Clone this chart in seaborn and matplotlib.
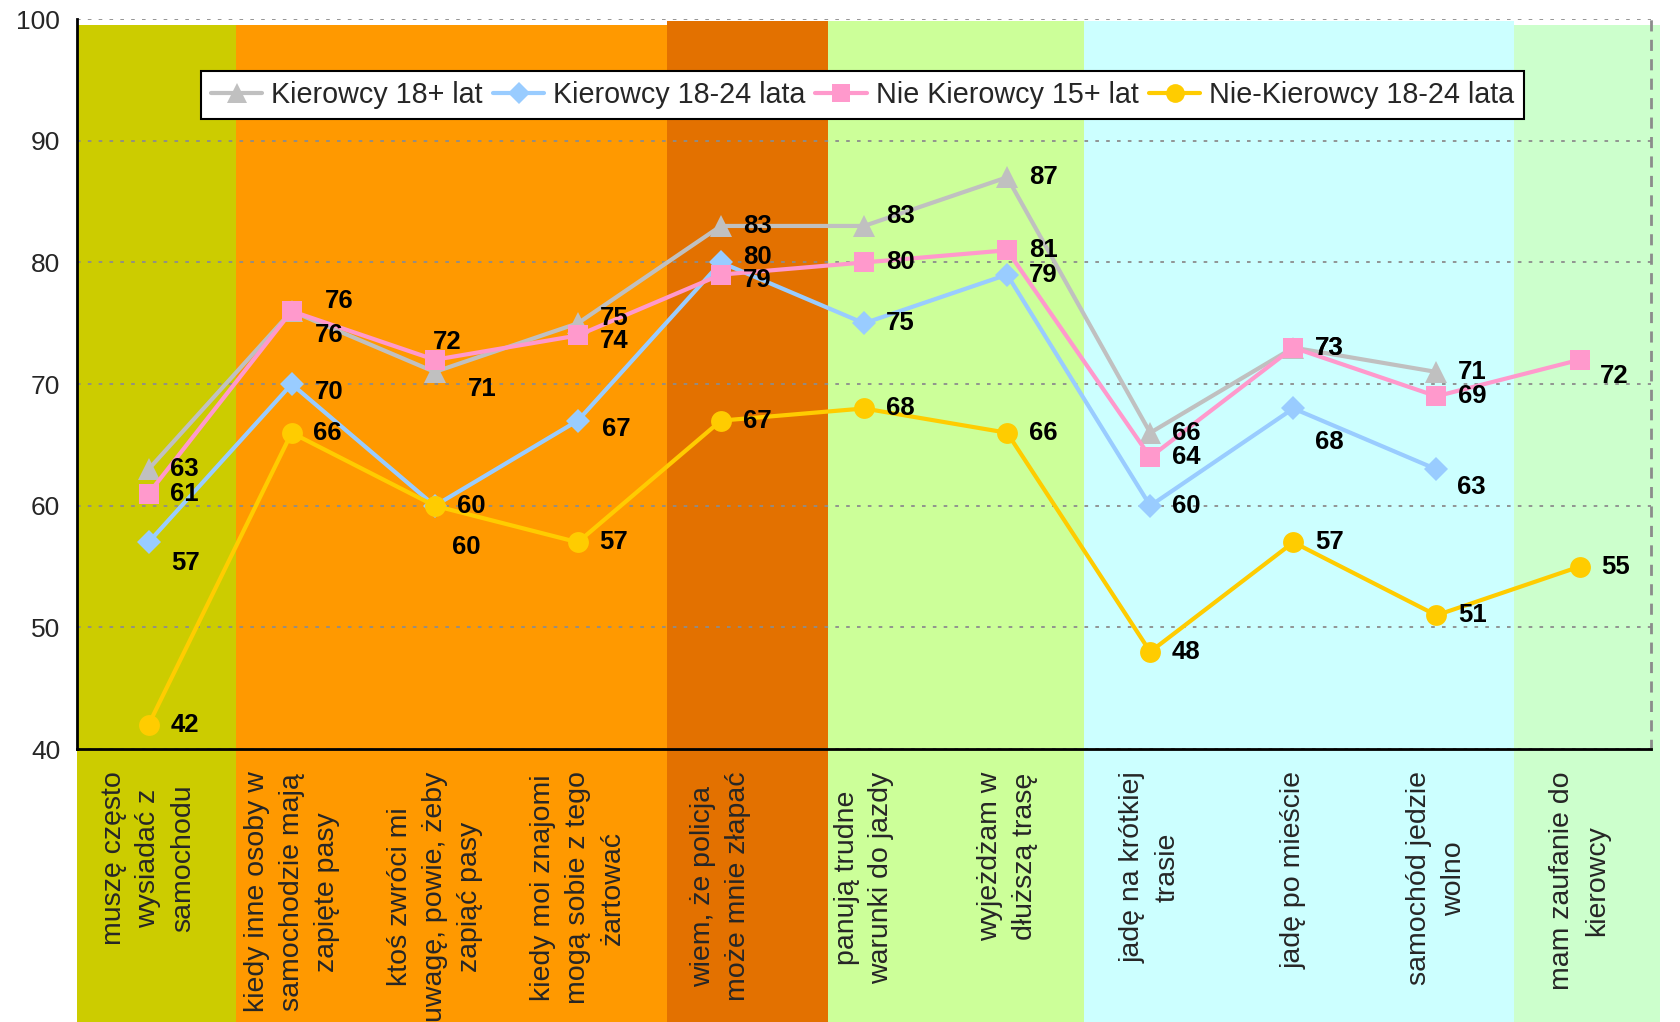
import numpy as np
import pandas as pd
import matplotlib
matplotlib.use("Agg")
import matplotlib.pyplot as plt
import seaborn as sns

# categories (x axis)
categories = [
    "muszę często\nwysiadać z\nsamochodu",
    "kiedy inne osoby w\nsamochodzie mają\nzapięte pasy",
    "ktoś zwróci mi\nuwagę, powie, żeby\nzapiąć pasy",
    "kiedy moi znajomi\nmogą sobie z tego\nżartować",
    "wiem, że policja\nmoże mnie złapać",
    "panują trudne\nwarunki do jazdy",
    "wyjeżdżam w\ndłuższą trasę",
    "jadę na krótkiej\ntrasie",
    "jadę po mieście",
    "samochód jedzie\nwolno",
    "mam zaufanie do\nkierowcy",
]

series_names = ["Kierowcy 18+ lat", "Kierowcy 18-24 lata",
                "Nie Kierowcy 15+ lat", "Nie-Kierowcy 18-24 lata"]

kierowcy_18plus = [63, 76, 71, 75, 83, 83, 87, 66, 73, 71, np.nan]
kierowcy_18_24 = [57, 70, 60, 67, 80, 75, 79, 60, 68, 63, np.nan]
nie_kierowcy_15plus = [61, 76, 72, 74, 79, 80, 81, 64, 73, 69, 72]
nie_kierowcy_18_24 = [42, 66, 60, 57, 67, 68, 66, 48, 57, 51, 55]

y_ticks = [40, 50, 60, 70, 80, 90, 100]

# styling
colors = {"Kierowcy 18+ lat": "#C0C0C0", "Kierowcy 18-24 lata": "#99CCFF",
          "Nie Kierowcy 15+ lat": "#FF99CC", "Nie-Kierowcy 18-24 lata": "#FFCC00"}
markers = {"Kierowcy 18+ lat": "^", "Kierowcy 18-24 lata": "D",
           "Nie Kierowcy 15+ lat": "s", "Nie-Kierowcy 18-24 lata": "o"}
msizes = {"Kierowcy 18+ lat": 16, "Kierowcy 18-24 lata": 12,
          "Nie Kierowcy 15+ lat": 15, "Nie-Kierowcy 18-24 lata": 15}

# background bands: start, end (category units), colour, top (axes fraction)
bands = [(-0.5, 0.61, "#CCCC00", 0.992),
         (0.61, 3.625, "#FF9900", 0.992),
         (3.625, 4.745, "#E37100", 0.998),
         (4.745, 6.535, "#CCFF99", 0.998),
         (6.535, 9.545, "#CCFFFF", 0.998),
         (9.545, 10.56, "#CCFFCC", 0.992)]

# label offsets (points) where they differ from the default one
default_off = (26, 0)
label_off = {
    (1, 0): (27, -15),
    (2, 1): (34, 7),
    (0, 1): (27, -17),
    (1, 1): (27, -6),
    (2, 2): (9, 13),
    (0, 2): (34, -12),
    (3, 2): (23, -30),
    (0, 3): (26, 4),
    (2, 3): (26, -4),
    (1, 3): (28, -6),
    (1, 4): (26, 4),
    (2, 4): (26, -4),
    (0, 5): (26, 7),
    (1, 8): (26, -24),
    (1, 9): (25, -13),
    (2, 10): (25, -12),
}

rows = []
for name, vals in zip(series_names, [kierowcy_18plus, kierowcy_18_24,
                                     nie_kierowcy_15plus, nie_kierowcy_18_24]):
    for i, v in enumerate(vals):
        rows.append({"pos": i, "seria": name, "wartosc": v})
df = pd.DataFrame(rows)

sns.set_style("white")
plt.rcParams["font.family"] = ["Liberation Sans", "DejaVu Sans"]

fig = plt.figure(figsize=(16.81, 10.22), dpi=100)
ax = fig.add_axes([0.0458, 0.267, 0.9364, 0.7143])

for x0, x1, c, top in bands:
    ax.axvspan(x0, x1, ymin=-0.38, ymax=top, color=c, lw=0, zorder=0, clip_on=False)

sns.lineplot(data=df, x="pos", y="wartosc", hue="seria", style="seria",
             hue_order=series_names, style_order=series_names,
             palette=colors, markers=markers, dashes=False,
             linewidth=3, errorbar=None, ax=ax)

for line in ax.get_lines():
    line.set_markeredgecolor(line.get_color())
    line.set_markeredgewidth(0)

# marker sizes per series
for line, name in zip(ax.get_lines(), series_names):
    line.set_markersize(msizes[name])

# data labels
for si, vals in enumerate([kierowcy_18plus, kierowcy_18_24,
                           nie_kierowcy_15plus, nie_kierowcy_18_24]):
    for i, v in enumerate(vals):
        if np.isnan(v):
            continue
        dx, dy = label_off.get((si, i), default_off)
        ax.annotate(f"{int(v)}", xy=(i, v), xytext=(dx, dy),
                    textcoords="offset points", ha="center", va="center",
                    fontsize=18.5, fontweight="bold", color="black", zorder=5)

ax.set_xlim(-0.5, 10.5)
ax.set_ylim(40, 100)
ax.set_yticks(y_ticks)
ax.set_yticklabels([str(t) for t in y_ticks], fontsize=19)
ax.set_xticks(np.arange(-0.5, 11, 1))
ax.set_xticklabels([])
ax.set_xticks(np.arange(11), minor=True)
ax.set_xticklabels(categories, minor=True, rotation=90, fontsize=20.5,
                   ha="center", va="top")
for t in ax.get_xticklabels(minor=True):
    t.set_multialignment("center")
    t.set_linespacing(1.45)
ax.tick_params(axis="x", which="minor", length=0, pad=16)
ax.tick_params(axis="x", which="major", direction="out", length=6, width=1.5, color="black")
ax.tick_params(axis="y", direction="out", length=6, width=1.5, color="black", pad=6)
ax.set_xlabel("")
ax.set_ylabel("")

ax.set_axisbelow(True)
ax.yaxis.grid(True, color="#8C8C8C", linestyle=(0, (2, 4)), linewidth=1.3)
ax.xaxis.grid(False)
ax.patch.set_alpha(0)

for s in ["left", "bottom"]:
    ax.spines[s].set_color("black")
    ax.spines[s].set_linewidth(2)
ax.spines["top"].set_visible(False)
ax.spines["right"].set_color("#8C8C8C")
ax.spines["right"].set_linestyle((0, (3, 4)))
ax.spines["right"].set_linewidth(2)

handles, labels = ax.get_legend_handles_labels()
for h, name in zip(handles, labels):
    h.set_markersize(msizes.get(name, 12) * 0.9)
    h.set_markeredgewidth(0)
    h.set_linewidth(3)
ax.legend(handles, labels, loc="upper center", bbox_to_anchor=(0.499, 0.929),
          ncol=4, fontsize=20.7, frameon=True, fancybox=False, edgecolor="black",
          framealpha=1, handlelength=1.8, handletextpad=0.3, columnspacing=0.35,
          borderpad=0.35, borderaxespad=0)
ax.get_legend().get_frame().set_linewidth(1.5)

fig.savefig("out.png", dpi=100)
